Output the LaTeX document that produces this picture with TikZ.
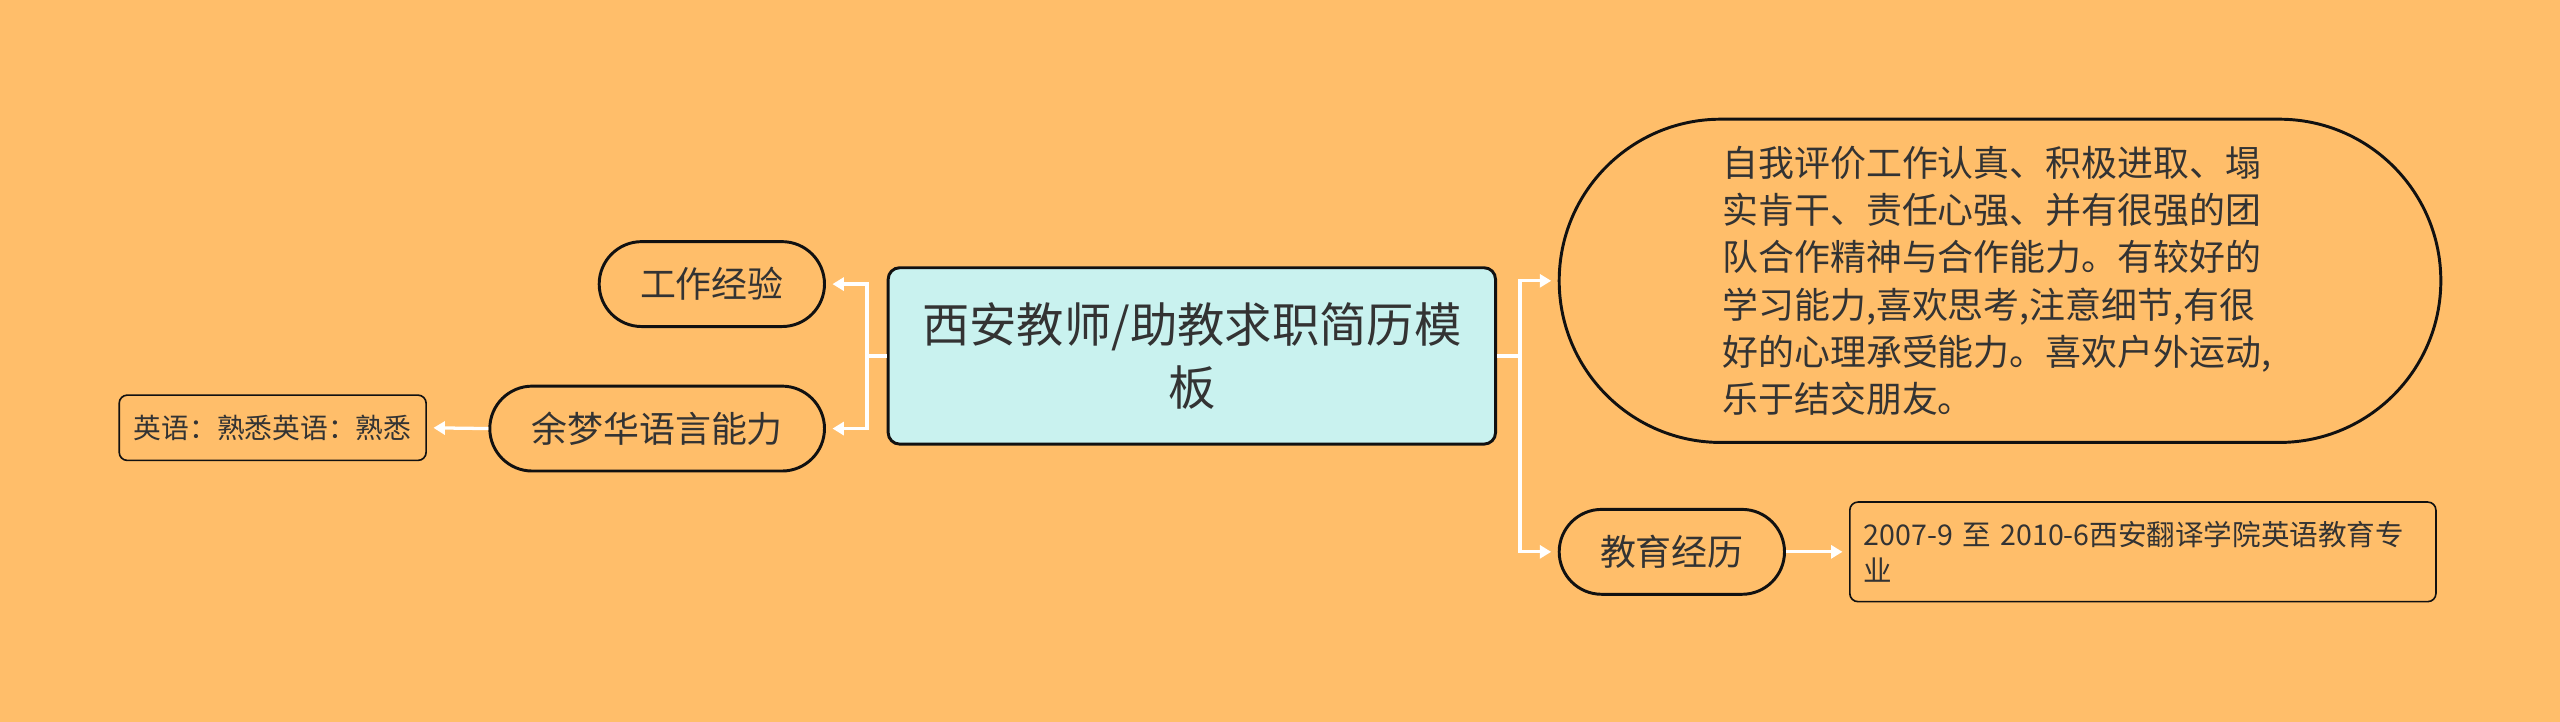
\documentclass[tikz,border=0pt]{standalone}
\usepackage{fontspec}
\setmainfont{Noto Sans CJK SC}
\usetikzlibrary{arrows.meta}
\definecolor{bg}{HTML}{FFBE6A}
\definecolor{cfill}{HTML}{C9F2EF}
\definecolor{txt}{HTML}{333333}
\definecolor{edge}{HTML}{111111}
\begin{document}
\begin{tikzpicture}[x=1pt,y=-1pt,
  link/.style={draw=white,line width=2pt},
  conn/.style={link,-{Triangle[width=8pt,length=7pt]},shorten >=4pt},
  pill/.style={draw=edge,line width=1.8pt,fill=bg,rounded corners=26pt,minimum height=52pt,text=txt,font=\fontsize{22}{26}\selectfont,inner sep=0pt},
  leafbox/.style={draw=edge,line width=1pt,rounded corners=5pt,fill=bg,text=txt,inner sep=0pt},
]
\fill[bg] (0,0) rectangle (1568,442);
\useasboundingbox (0,0) rectangle (1568,442);

\node[draw=edge,line width=1.8pt,fill=cfill,rounded corners=7pt,minimum width=372pt,minimum height=108pt,inner sep=0pt,align=center,text=txt,font=\fontsize{29}{39}\selectfont] (root) at (730,218) {西安教师/助教求职简历模\\板};

\node[pill,minimum width=138pt] (work) at (436,174) {工作经验};
\node[pill,minimum width=205pt] (lang) at (402.5,262.5) {余梦华语言能力};
\node[leafbox,minimum width=188pt,minimum height=40pt,font=\fontsize{17}{20}\selectfont] (eng) at (167,262) {英语：熟悉英语：熟悉};

\node[pill,minimum width=540pt,minimum height=198pt,rounded corners=99pt,text width=340pt,align=left,font=\fontsize{22}{29}\selectfont] (self) at (1225,172) {自我评价工作认真、积极进取、塌\\实肯干、责任心强、并有很强的团\\队合作精神与合作能力。有较好的\\学习能力,喜欢思考,注意细节,有很\\好的心理承受能力。喜欢户外运动,\\乐于结交朋友。};

\node[pill,minimum width=138pt] (edu) at (1024,338) {教育经历};
\node[leafbox,minimum width=359pt,minimum height=61pt,text width=342pt,align=left,font=\fontsize{17.5}{22}\selectfont] (edut) at (1312.5,338) {2007-9 至 2010-6西安翻译学院英语教育专\\业};

\coordinate (jl) at (531,218);
\coordinate (jr) at (931,218);
\draw[link] (root.west) -- (jl);
\draw[conn] (jl) |- (work.east);
\draw[conn] (jl) |- (lang.east);
\draw[link] (root.east) -- (jr);
\draw[conn] (jr) |- (self.west);
\draw[conn] (jr) |- (edu.west);
\draw[conn] (lang.west) -- (eng.east);
\draw[conn] (edu.east) -- (edut.west);
\end{tikzpicture}
\end{document}
